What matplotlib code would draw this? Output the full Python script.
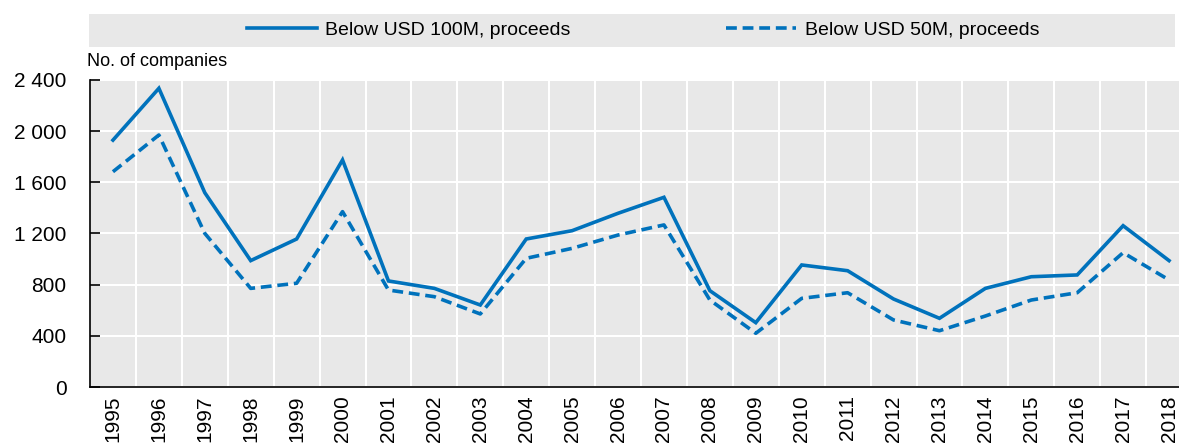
import numpy as np
import matplotlib
matplotlib.use("Agg")
import matplotlib.pyplot as plt
from matplotlib.ticker import FuncFormatter, FixedLocator
from matplotlib.patches import Rectangle

plt.rcParams['font.family'] = ['Liberation Sans Narrow', 'Liberation Sans', 'DejaVu Sans']

# Data
years = [str(y) for y in range(1995, 2019)]
below_100m = [1930, 2335, 1519, 988, 1157, 1775, 829, 771, 641, 1157, 1222, 1358,
              1483, 753, 503, 954, 909, 688, 537, 771, 862, 876, 1261, 988]
below_50m = [1683, 1970, 1201, 771, 811, 1371, 758, 706, 571, 1006, 1084, 1188,
             1267, 680, 420, 693, 737, 524, 440, 555, 680, 737, 1050, 837]
y_ticks = [0, 400, 800, 1200, 1600, 2000, 2400]

blue = '#0072BC'
bg = '#E8E8E8'

fig = plt.figure(figsize=(11.79, 4.44), dpi=100)
ax = fig.add_axes([90 / 1179, 1 - 387 / 444, (1192 - 90) / 1179, 307 / 444])
ax.set_facecolor(bg)

x = np.arange(len(years))
ax.plot(x, below_100m, color=blue, lw=2.6, label='Below USD 100M, proceeds',
        solid_joinstyle='miter')
ax.plot(x, below_50m, color=blue, lw=2.6, dashes=(3.0, 1.6),
        label='Below USD 50M, proceeds')

ax.set_xlim(-0.5, len(years) - 0.5)
ax.set_ylim(0, 2400)
ax.set_xticks(x)
ax.set_xticklabels(years, rotation=90, fontsize=15)
ax.xaxis.set_minor_locator(FixedLocator(x[:-1] + 0.5))
ax.set_yticks(y_ticks)
ax.yaxis.set_major_formatter(FuncFormatter(lambda v, p: f"{int(v):,}".replace(',', ' ')))
ax.tick_params(axis='y', labelsize=15, direction='in', length=7, width=1.2, pad=17)
ax.tick_params(axis='x', which='both', length=0, pad=6)

ax.grid(True, axis='y', which='major', color='white', lw=1.5)
ax.grid(True, axis='x', which='minor', color='white', lw=1.5)
ax.set_axisbelow(True)
for s in ['top', 'right']:
    ax.spines[s].set_visible(False)
ax.spines['left'].set_linewidth(1.2)
ax.spines['bottom'].set_linewidth(1.2)

fig.text(87 / 1179, 1 - 62 / 444, 'No. of companies', fontsize=13, va='center', ha='left')

# legend band
fig.patches.append(Rectangle((89 / 1179, 1 - 47 / 444), (1175 - 89) / 1179, 33 / 444,
                             transform=fig.transFigure, facecolor=bg, edgecolor='none', zorder=0))
handles, labels = ax.get_legend_handles_labels()
fig.legend(handles, labels, loc='center', bbox_to_anchor=(643 / 1179, 1 - 30.5 / 444),
           ncol=2, frameon=False, fontsize=14, handlelength=3.6, columnspacing=8.0,
           handletextpad=0.45, borderpad=0)

fig.savefig('out.png', dpi=100)
